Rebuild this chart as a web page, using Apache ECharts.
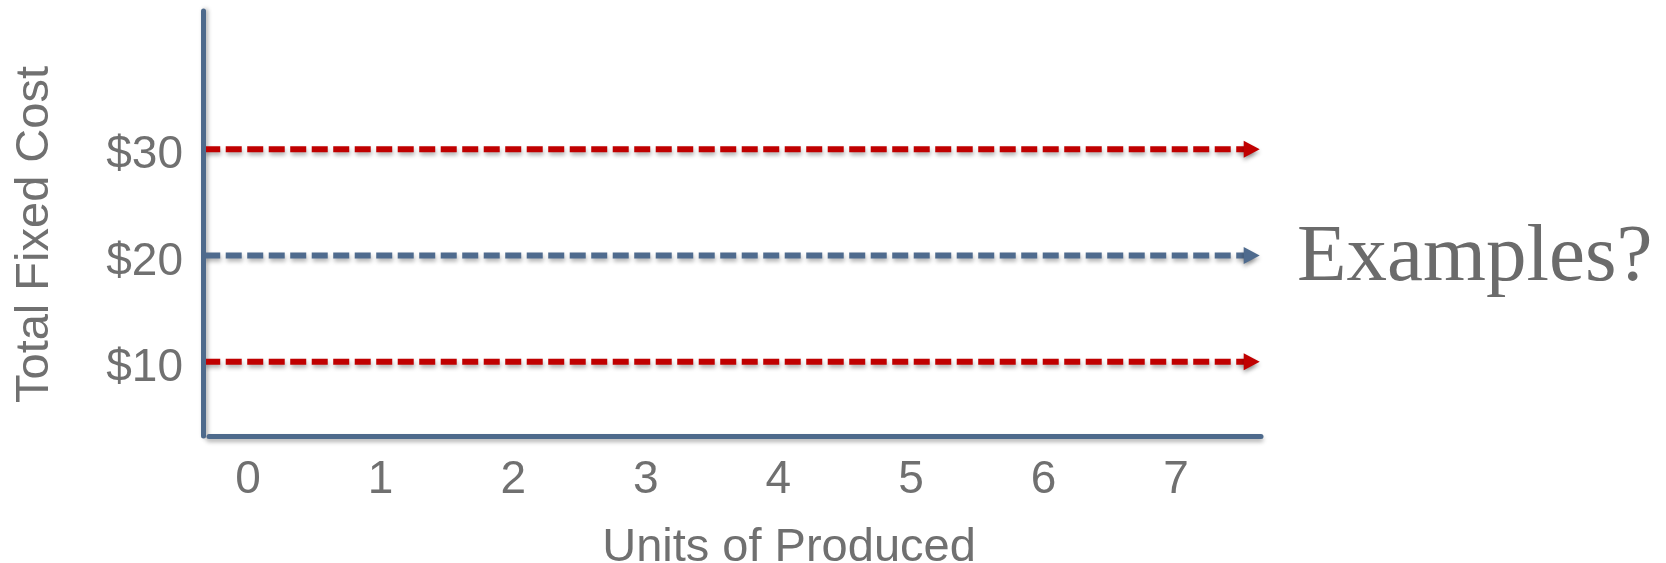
<!DOCTYPE html>
<html>
<head>
<meta charset="utf-8">
<script src="https://cdn.jsdelivr.net/npm/echarts@6/dist/echarts.min.js"></script>
<style>
html,body{margin:0;padding:0;background:#fff;}
#chart{width:1666px;height:563px;}
</style>
</head>
<body>
<div id="chart"></div>
<script>
// ---- data ----
const xTickValues = [0, 1, 2, 3, 4, 5, 6, 7];
const yTickValues = [10, 20, 30];
const lineStartX = -0.33;
const lineEndX = 7.57;
const lowCost = [10, 10];
const midCost = [20, 20];
const highCost = [30, 30];
const xAxisTitle = 'Units of Produced';
const yAxisTitle = 'Total Fixed Cost';
const noteText = 'Examples?';

const RED = '#C00000';
const BLUE = '#4F6B8E';
const AXIS = '#4E6A8C';
const TEXT = '#707070';

function makeLine(name, vals, color) {
  return {
    name: name,
    type: 'line',
    clip: false,
    silent: true,
    showSymbol: true,
    lineStyle: {
      color: color, width: 6, type: [16, 5.5],
      shadowColor: 'rgba(0,0,0,0.3)', shadowBlur: 4, shadowOffsetX: 1, shadowOffsetY: 3
    },
    itemStyle: { color: color, shadowColor: 'rgba(0,0,0,0.3)', shadowBlur: 4, shadowOffsetY: 3 },
    data: [
      { value: [lineStartX, vals[0]], symbol: 'none' },
      { value: [lineEndX, vals[1]], symbol: 'triangle', symbolSize: [17, 16], symbolRotate: -90 }
    ]
  };
}

const chart = echarts.init(document.getElementById('chart'), null, { renderer: 'canvas' });
chart.setOption({
  animation: false,
  backgroundColor: '#ffffff',
  grid: { left: 209, right: 405, top: 11, bottom: 127, containLabel: false, outerBoundsMode: 'none' },
  xAxis: {
    type: 'value',
    min: -0.294,
    max: 7.64,
    name: xAxisTitle,
    nameLocation: 'middle',
    nameGap: 89,
    nameTextStyle: { fontFamily: 'Liberation Sans, Arial', fontSize: 47, color: TEXT, padding: [0, 0, 0, 108] },
    axisLine: { show: true, onZero: false, lineStyle: { color: AXIS, width: 5, shadowColor: 'rgba(0,0,0,0.3)', shadowBlur: 4, shadowOffsetY: 3 } },
    axisTick: { show: false },
    splitLine: { show: false },
    axisLabel: {
      customValues: xTickValues,
      margin: 21,
      fontFamily: 'Liberation Sans, Arial',
      fontSize: 46,
      color: TEXT
    }
  },
  yAxis: {
    type: 'value',
    min: 3,
    max: 43,
    offset: 6,
    name: yAxisTitle,
    nameLocation: 'middle',
    nameGap: 144,
    nameRotate: 90,
    nameTextStyle: { fontFamily: 'Liberation Sans, Arial', fontSize: 47, color: TEXT, padding: [0, 22, 0, 0] },
    axisLine: { show: true, onZero: false, lineStyle: { color: AXIS, width: 5, shadowColor: 'rgba(0,0,0,0.3)', shadowBlur: 4, shadowOffsetX: 2 } },
    axisTick: { show: false },
    splitLine: { show: false },
    axisLabel: {
      customValues: yTickValues,
      margin: 20,
      fontFamily: 'Liberation Sans, Arial',
      fontSize: 46,
      color: TEXT,
      verticalAlign: 'top',
      lineHeight: 13,
      formatter: function (v) { return '$' + v; }
    }
  },
  graphic: [{
    type: 'text',
    left: 1297,
    top: 218,
    style: {
      text: noteText,
      font: '81px "Liberation Serif", "Times New Roman", serif',
      fill: '#6B6B6B'
    }
  }],
  series: [
    makeLine('High', highCost, RED),
    makeLine('Mid', midCost, BLUE),
    makeLine('Low', lowCost, RED)
  ]
});
</script>
</body>
</html>
